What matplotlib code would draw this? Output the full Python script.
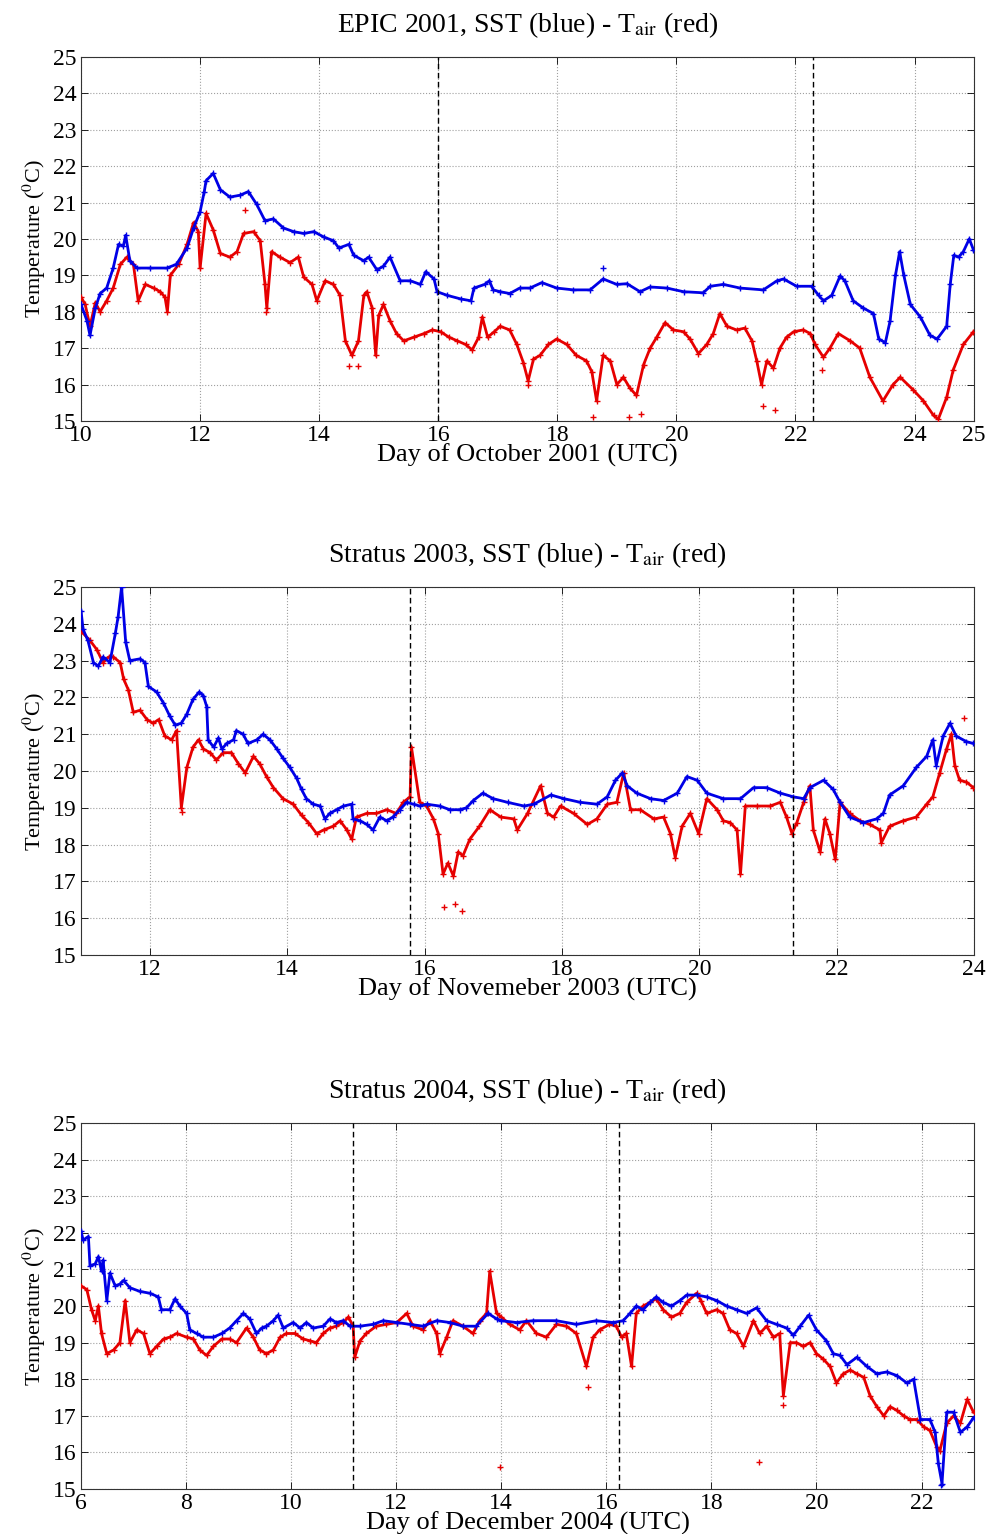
import matplotlib
matplotlib.use("Agg")
import matplotlib.pyplot as plt

# ---------------- Panel 1: EPIC 2001 ----------------
epic_sst_day = [10.0,10.1,10.15,10.24,10.32,10.43,10.54,10.63,10.71,10.75,
                10.82,10.94,11.16,11.44,11.6,11.78,11.89,12.0,12.07,12.1,
                12.22,12.34,12.5,12.67,12.81,12.95,13.09,13.23,13.4,13.57,
                13.74,13.91,14.08,14.24,14.33,14.5,14.58,14.75,14.83,14.97,
                15.08,15.19,15.36,15.53,15.7,15.79,15.93,15.98,16.15,16.38,
                16.55,16.6,16.78,16.86,16.92,17.04,17.2,17.37,17.54,17.74,
                17.99,18.27,18.55,18.77,19.0,19.17,19.39,19.56,19.84,20.12,
                20.45,20.57,20.79,21.07,21.46,21.69,21.8,22.02,22.27,22.39,
                22.47,22.61,22.75,22.83,22.97,23.14,23.31,23.4,23.51,23.59,
                23.68,23.75,23.82,23.93,24.1,24.26,24.38,24.54,24.6,24.66,
                24.74,24.82,24.92,24.99]
epic_sst_temp = [18.2,17.75,17.35,18.1,18.5,18.65,19.2,19.85,19.8,20.1,
                 19.4,19.2,19.2,19.2,19.3,19.75,20.3,20.75,21.3,21.6,
                 21.8,21.35,21.15,21.2,21.3,20.95,20.5,20.55,20.3,20.2,
                 20.15,20.2,20.05,19.95,19.75,19.85,19.55,19.4,19.5,19.15,
                 19.25,19.5,18.85,18.85,18.75,19.1,18.9,18.55,18.45,18.35,
                 18.3,18.65,18.75,18.85,18.6,18.55,18.5,18.65,18.65,18.8,
                 18.65,18.6,18.6,18.9,18.75,18.77,18.55,18.68,18.65,18.55,
                 18.52,18.7,18.75,18.65,18.6,18.85,18.9,18.7,18.7,18.45,
                 18.3,18.45,18.98,18.85,18.3,18.1,17.95,17.25,17.15,17.75,
                 19.0,19.65,19.0,18.2,17.85,17.35,17.25,17.6,18.75,19.55,
                 19.5,19.65,20.0,19.7]
epic_air_day = [10.0,10.07,10.15,10.24,10.32,10.43,10.54,10.66,10.77,10.88,
                10.96,11.08,11.22,11.33,11.41,11.45,11.5,11.64,11.78,11.89,
                11.97,12.0,12.1,12.22,12.34,12.5,12.62,12.73,12.9,13.01,
                13.09,13.12,13.2,13.34,13.51,13.65,13.74,13.88,13.96,14.1,
                14.24,14.35,14.44,14.55,14.66,14.75,14.8,14.89,14.95,15.0,
                15.08,15.19,15.3,15.42,15.59,15.76,15.9,16.04,16.18,16.32,
                16.46,16.57,16.68,16.74,16.83,16.94,17.04,17.2,17.32,17.43,
                17.51,17.6,17.71,17.85,17.99,18.16,18.32,18.49,18.58,18.66,
                18.77,18.89,19.0,19.11,19.22,19.33,19.45,19.56,19.67,19.81,
                19.95,20.12,20.23,20.37,20.51,20.62,20.73,20.85,21.01,21.15,
                21.27,21.35,21.43,21.52,21.63,21.74,21.85,21.97,22.13,22.25,
                22.33,22.47,22.58,22.72,22.92,23.08,23.25,23.47,23.64,23.76,
                23.98,24.15,24.32,24.4,24.54,24.65,24.82,24.99]
epic_air_temp = [18.4,18.2,17.6,18.25,18.0,18.3,18.65,19.3,19.5,19.3,
                 18.3,18.75,18.65,18.55,18.4,18.0,19.0,19.3,19.85,20.45,
                 20.2,19.2,20.7,20.25,19.6,19.5,19.65,20.15,20.2,19.95,
                 18.75,18.1,19.65,19.5,19.35,19.5,18.95,18.75,18.3,18.85,
                 18.75,18.45,17.2,16.8,17.2,18.45,18.55,18.1,16.8,17.9,
                 18.2,17.75,17.4,17.2,17.3,17.4,17.5,17.45,17.3,17.2,
                 17.1,16.95,17.3,17.85,17.3,17.45,17.6,17.5,17.1,16.6,
                 16.1,16.7,16.8,17.1,17.25,17.1,16.8,16.65,16.35,15.55,
                 16.8,16.65,16.0,16.2,15.9,15.7,16.55,17.0,17.3,17.7,
                 17.5,17.45,17.25,16.85,17.1,17.4,17.95,17.6,17.5,17.55,
                 17.2,16.65,16.0,16.65,16.45,17.0,17.3,17.45,17.5,17.4,
                 17.1,16.75,17.0,17.4,17.2,17.0,16.2,15.55,16.0,16.2,
                 15.85,15.55,15.15,15.05,15.65,16.4,17.1,17.45]
epic_sst_extra_day = [18.77]
epic_sst_extra_temp = [19.2]
epic_air_extra_day = [12.75,13.1,14.5,14.65,17.5,18.6,19.2,19.4,21.45,21.65,22.45]
epic_air_extra_temp = [20.8,18.0,16.5,16.5,16.0,15.1,15.1,15.2,15.4,15.3,16.4]
epic_events = [16.0, 22.3]

# ---------------- Panel 2: Stratus 2003 ----------------
s03_sst_day = [11.0,11.03,11.1,11.18,11.25,11.32,11.42,11.5,11.54,11.59,11.65,
               11.71,11.86,11.93,11.98,12.1,12.2,12.29,12.37,12.46,12.54,
               12.63,12.72,12.78,12.83,12.85,12.93,13.0,13.05,13.12,13.22,
               13.26,13.36,13.43,13.56,13.65,13.75,13.85,13.94,14.04,14.14,
               14.21,14.28,14.38,14.48,14.55,14.62,14.72,14.82,14.94,14.96,
               15.06,15.16,15.25,15.35,15.45,15.54,15.64,15.74,15.84,15.93,
               16.03,16.22,16.37,16.51,16.61,16.71,16.85,17.0,17.21,17.45,
               17.59,17.84,18.03,18.27,18.51,18.66,18.78,18.88,18.95,19.09,
               19.29,19.48,19.68,19.82,19.97,20.11,20.35,20.6,20.79,20.98,
               21.18,21.37,21.52,21.61,21.81,21.95,22.05,22.19,22.39,22.58,
               22.68,22.77,22.97,23.16,23.31,23.4,23.45,23.55,23.65,23.74,
               23.89,23.99]
s03_sst_temp = [24.35,23.85,23.55,22.95,22.85,23.1,22.95,23.75,24.2,25.0,23.5,
                23.0,23.05,22.95,22.3,22.15,21.85,21.5,21.25,21.3,21.55,
                21.95,22.15,22.05,21.75,20.85,20.65,20.9,20.6,20.75,20.85,
                21.1,21.0,20.75,20.85,21.0,20.85,20.6,20.35,20.1,19.8,
                19.5,19.25,19.1,19.05,18.7,18.85,18.95,19.05,19.1,18.7,
                18.65,18.55,18.4,18.75,18.65,18.75,18.95,19.15,19.1,19.05,
                19.1,19.05,18.95,18.95,19.0,19.2,19.4,19.25,19.15,19.05,
                19.1,19.35,19.25,19.15,19.1,19.3,19.75,19.95,19.6,19.4,
                19.25,19.2,19.4,19.85,19.75,19.4,19.25,19.25,19.55,19.55,
                19.4,19.3,19.25,19.55,19.75,19.5,19.15,18.75,18.6,18.7,
                18.85,19.35,19.6,20.1,20.4,20.85,20.15,20.95,21.3,20.95,
                20.8,20.75]
s03_air_day = [11.0,11.13,11.23,11.32,11.4,11.47,11.57,11.62,11.69,11.76,
               11.86,11.96,12.05,12.13,12.22,12.32,12.39,12.46,12.54,12.63,
               12.71,12.78,12.88,12.97,13.07,13.19,13.29,13.39,13.51,13.6,
               13.7,13.8,13.94,14.09,14.21,14.31,14.43,14.53,14.67,14.77,
               14.87,14.94,15.01,15.16,15.3,15.45,15.59,15.69,15.79,15.81,
               15.93,16.03,16.13,16.2,16.27,16.34,16.42,16.49,16.56,16.66,
               16.8,16.95,17.11,17.3,17.35,17.5,17.69,17.79,17.88,17.98,
               18.17,18.37,18.51,18.66,18.8,18.9,19.0,19.14,19.34,19.48,
               19.58,19.65,19.75,19.87,19.99,20.11,20.26,20.35,20.45,20.55,
               20.6,20.67,20.84,21.03,21.18,21.27,21.35,21.42,21.52,21.61,
               21.66,21.76,21.83,21.9,21.98,22.05,22.19,22.34,22.48,22.63,
               22.65,22.77,22.97,23.16,23.31,23.4,23.5,23.6,23.67,23.72,
               23.79,23.89,23.99]
s03_air_temp = [23.8,23.55,23.3,22.95,23.1,23.1,22.95,22.5,22.2,21.6,
                21.65,21.4,21.3,21.4,20.95,20.85,21.1,19.0,20.1,20.65,
                20.85,20.6,20.5,20.3,20.5,20.5,20.2,19.95,20.4,20.2,
                19.85,19.55,19.25,19.1,18.8,18.6,18.3,18.4,18.5,18.65,
                18.4,18.15,18.75,18.85,18.85,18.95,18.85,19.15,19.3,20.65,
                19.15,19.05,18.7,18.3,17.2,17.5,17.15,17.8,17.7,18.15,
                18.5,18.95,18.75,18.7,18.4,18.85,19.6,18.85,18.75,19.05,
                18.85,18.55,18.7,19.1,19.15,19.95,18.95,18.95,18.7,18.75,
                18.3,17.65,18.5,18.85,18.3,19.25,18.95,18.65,18.6,18.4,
                17.2,19.05,19.05,19.05,19.15,18.75,18.3,18.6,19.15,19.6,
                18.4,17.8,18.7,18.3,17.6,19.15,18.85,18.65,18.55,18.4,
                18.05,18.5,18.65,18.75,19.1,19.3,19.95,20.6,21.0,20.15,
                19.75,19.7,19.55]
s03_air_extra_day = [12.47,16.28,16.45,16.55,23.85]
s03_air_extra_temp = [18.9,16.3,16.4,16.2,21.45]
s03_events = [15.79, 21.36]

# ---------------- Panel 3: Stratus 2004 ----------------
s04_sst_day = [6.0,6.04,6.14,6.17,6.27,6.33,6.39,6.42,6.49,6.55,
               6.65,6.74,6.81,6.93,7.12,7.31,7.47,7.53,7.69,7.79,
               7.88,8.01,8.07,8.2,8.33,8.52,8.68,8.83,8.96,9.09,
               9.21,9.34,9.44,9.53,9.66,9.75,9.85,10.04,10.17,10.29,
               10.42,10.61,10.74,10.86,10.99,11.12,11.31,11.56,11.75,12.01,
               12.26,12.51,12.77,13.02,13.27,13.52,13.75,13.91,14.0,14.29,
               14.6,15.05,15.43,15.81,16.13,16.32,16.45,16.57,16.7,16.83,
               16.95,17.08,17.24,17.4,17.53,17.72,17.91,18.1,18.29,18.48,
               18.67,18.86,19.05,19.24,19.43,19.56,19.69,19.85,20.0,20.19,
               20.32,20.45,20.58,20.77,20.96,21.15,21.34,21.53,21.72,21.85,
               21.98,22.16,22.26,22.32,22.39,22.48,22.61,22.74,22.87,22.99]
s04_sst_temp = [22.05,21.8,21.9,21.1,21.15,21.35,20.95,21.25,20.15,20.9,
                20.55,20.6,20.7,20.5,20.4,20.35,20.25,19.9,19.9,20.2,
                20.0,19.8,19.35,19.25,19.15,19.15,19.25,19.4,19.6,19.8,
                19.65,19.25,19.4,19.45,19.6,19.75,19.4,19.55,19.4,19.55,
                19.4,19.45,19.65,19.55,19.6,19.45,19.45,19.5,19.6,19.55,
                19.5,19.45,19.6,19.55,19.45,19.45,19.8,19.65,19.6,19.55,
                19.6,19.6,19.5,19.6,19.55,19.6,19.8,20.0,19.9,20.1,
                20.25,20.1,20.0,20.15,20.3,20.3,20.25,20.15,20.0,19.9,
                19.8,19.95,19.6,19.5,19.4,19.2,19.45,19.75,19.35,19.05,
                18.7,18.65,18.4,18.6,18.35,18.15,18.2,18.1,17.9,18.0,
                16.9,16.9,16.55,15.7,15.15,17.1,17.1,16.55,16.7,16.95]
s04_air_day = [6.0,6.11,6.2,6.27,6.33,6.39,6.49,6.62,6.74,6.84,
               6.93,7.06,7.19,7.31,7.44,7.57,7.69,7.82,8.01,8.14,
               8.26,8.39,8.52,8.68,8.83,8.96,9.15,9.28,9.4,9.53,
               9.66,9.79,9.91,10.07,10.23,10.36,10.48,10.61,10.74,10.86,
               10.99,11.09,11.18,11.21,11.31,11.43,11.62,11.81,12.01,12.2,
               12.32,12.51,12.64,12.77,12.83,12.96,13.08,13.27,13.46,13.59,
               13.72,13.78,13.91,14.0,14.16,14.35,14.48,14.67,14.86,15.05,
               15.24,15.43,15.62,15.75,15.87,16.06,16.19,16.29,16.38,16.48,
               16.57,16.7,16.83,16.95,17.08,17.24,17.4,17.53,17.72,17.8,
               17.91,18.1,18.22,18.35,18.48,18.61,18.8,18.92,19.05,19.18,
               19.3,19.37,19.5,19.62,19.75,19.88,20.0,20.13,20.26,20.38,
               20.51,20.64,20.77,20.9,21.02,21.15,21.28,21.4,21.53,21.66,
               21.78,21.91,22.04,22.16,22.29,22.35,22.48,22.61,22.74,22.87,
               22.99]
s04_air_temp = [20.55,20.45,19.9,19.6,20.0,19.25,18.7,18.8,19.0,20.15,
                19.0,19.35,19.25,18.7,18.9,19.1,19.15,19.25,19.15,19.1,
                18.8,18.65,18.9,19.1,19.1,19.0,19.4,19.15,18.8,18.7,
                18.8,19.15,19.25,19.25,19.1,19.05,19.0,19.25,19.4,19.45,
                19.55,19.7,19.45,18.6,19.05,19.25,19.45,19.5,19.55,19.8,
                19.45,19.35,19.6,19.25,18.7,19.15,19.6,19.45,19.25,19.6,
                19.8,20.95,19.8,19.7,19.5,19.35,19.6,19.25,19.15,19.5,
                19.45,19.25,18.35,19.15,19.35,19.5,19.45,19.15,19.25,18.35,
                19.8,20.0,20.1,20.2,19.9,19.7,19.8,20.1,20.35,20.15,
                19.8,19.9,19.8,19.35,19.25,18.9,19.6,19.25,19.45,19.15,
                19.25,17.55,19.0,19.0,18.9,19.0,18.7,18.55,18.35,17.9,
                18.15,18.25,18.15,18.05,17.55,17.25,17.0,17.25,17.15,17.0,
                16.9,16.9,16.7,16.6,16.15,16.05,16.8,17.0,16.8,17.45,
                17.1]
s04_air_extra_day = [13.98,18.91,15.65,19.37]
s04_air_extra_temp = [15.6,15.75,17.8,17.3]
s04_sst_extra_day = [22.38]
s04_sst_extra_temp = [15.1]
s04_events = [11.18, 16.24]

titles = ["EPIC 2001, SST (blue) - T$_{\\rm air}$ (red)",
          "Stratus 2003, SST (blue) - T$_{\\rm air}$ (red)",
          "Stratus 2004, SST (blue) - T$_{\\rm air}$ (red)"]
xlabels = ["Day of October 2001 (UTC)",
           "Day of Novemeber 2003 (UTC)",
           "Day of December 2004 (UTC)"]
xlims = [(10, 25), (11, 24), (6, 23)]
xticks = [[10, 12, 14, 16, 18, 20, 22, 24, 25],
          [12, 14, 16, 18, 20, 22, 24],
          [6, 8, 10, 12, 14, 16, 18, 20, 22]]
yticks = list(range(15, 26))

plt.rcParams['font.family'] = ['Liberation Serif', 'DejaVu Serif']
plt.rcParams['mathtext.fontset'] = 'stix'

BLUE = '#0000e6'
RED = '#e60000'

fig = plt.figure(figsize=(9.92, 15.34), dpi=100)
positions = [(0.0817, 0.7256, 0.9002, 0.2373),
             (0.0817, 0.3774, 0.9002, 0.2399),
             (0.0817, 0.0293, 0.9002, 0.2386)]

panels = [
    (epic_sst_day, epic_sst_temp, epic_air_day, epic_air_temp,
     epic_sst_extra_day, epic_sst_extra_temp, epic_air_extra_day, epic_air_extra_temp, epic_events),
    (s03_sst_day, s03_sst_temp, s03_air_day, s03_air_temp,
     [], [], s03_air_extra_day, s03_air_extra_temp, s03_events),
    (s04_sst_day, s04_sst_temp, s04_air_day, s04_air_temp,
     s04_sst_extra_day, s04_sst_extra_temp, s04_air_extra_day, s04_air_extra_temp, s04_events),
]

for i, (sd, st, ad, at, sxd, sxt, axd, axt, ev) in enumerate(panels):
    ax = fig.add_axes(positions[i])
    ax.plot(ad, at, color=RED, lw=2.0, marker='+', ms=4, mew=1.0, zorder=3)
    ax.plot(axd, axt, color=RED, lw=0, marker='+', ms=4, mew=1.0, zorder=3)
    ax.plot(sd, st, color=BLUE, lw=2.0, marker='+', ms=4, mew=1.0, zorder=4)
    ax.plot(sxd, sxt, color=BLUE, lw=0, marker='+', ms=4, mew=1.0, zorder=4)
    for e in ev:
        ax.axvline(e, color='black', ls=(0, (4, 2.5)), lw=1.0, zorder=5)
    ax.set_xlim(*xlims[i])
    ax.set_ylim(15, 25)
    ax.set_xticks(xticks[i])
    ax.set_yticks(yticks)
    ax.grid(True, ls=':', color='#a0a0a0', lw=0.8)
    ax.tick_params(direction='in', top=True, right=True, length=5, width=0.6,
                   labelsize=17, pad=3)
    for s in ax.spines.values():
        s.set_linewidth(0.8)
        s.set_color('#333333')
    ax.set_title(titles[i], fontsize=20, pad=18)
    ax.set_xlabel(xlabels[i], fontsize=19, labelpad=-2)
    ax.set_ylabel('Temperature ($^0$C)', fontsize=16, labelpad=4)

fig.savefig('out.png', dpi=100)
